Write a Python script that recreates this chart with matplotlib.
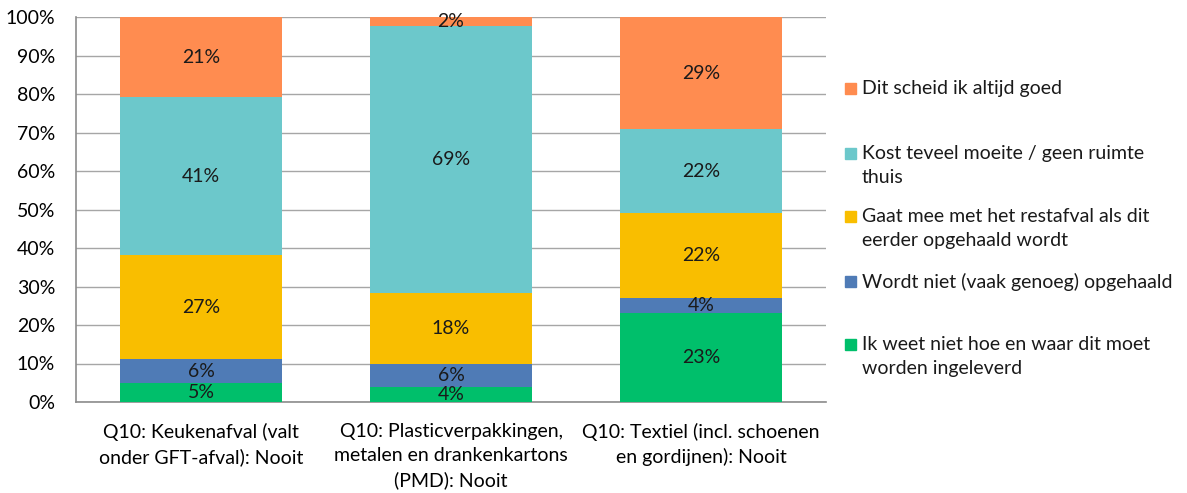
import matplotlib.pyplot as plt
import numpy as np
from matplotlib.patches import Rectangle

plt.rcParams['font.family'] = ['Lato', 'DejaVu Sans']

categories = ['Q10: Keukenafval (valt\nonder GFT-afval): Nooit',
              'Q10: Plasticverpakkingen,\nmetalen en drankenkartons\n(PMD): Nooit',
              'Q10: Textiel (incl. schoenen\nen gordijnen): Nooit']

# stacked bottom -> top
series = ['Ik weet niet hoe en waar dit moet\nworden ingeleverd',
          'Wordt niet (vaak genoeg) opgehaald',
          'Gaat mee met het restafval als dit\neerder opgehaald wordt',
          'Kost teveel moeite / geen ruimte\nthuis',
          'Dit scheid ik altijd goed']
values = {
    series[0]: [4.9, 3.9, 23.1],
    series[1]: [6.2, 6.1, 3.9],
    series[2]: [27.0, 18.3, 22.0],
    series[3]: [41.1, 69.4, 21.8],
    series[4]: [20.8, 2.3, 29.2],
}
colors = ['#00BF6B', '#4F7BB6', '#F9BE00', '#6CC8CB', '#FF8C50']
fs = 14

fig = plt.figure(figsize=(11.87, 4.93), dpi=100)
ax = fig.add_axes([76 / 1187, 1 - 402 / 493, 750 / 1187, 385 / 493])

x = np.arange(len(categories))
bottom = np.zeros(len(categories))
for name, col in zip(series, colors):
    vals = np.array(values[name])
    ax.bar(x, vals, 0.65, bottom=bottom, color=col, zorder=3)
    for xi, b, v in zip(x, bottom, vals):
        ax.text(xi, b + v / 2, f'{v:.0f}%', ha='center', va='center',
                fontsize=fs, color='#1a1a1a', zorder=4)
    bottom += vals

ax.set_xlim(-0.5, 2.5)
ax.set_ylim(0, 100)
ax.set_yticks(np.arange(0, 101, 10))
ax.set_yticklabels([f'{t}%' for t in range(0, 101, 10)], fontsize=fs)
ax.set_xticks(x)
ax.set_xticklabels(categories, fontsize=fs, linespacing=1.5)
ax.tick_params(axis='y', length=0, pad=15)
ax.tick_params(axis='x', length=0, pad=15)
ax.grid(axis='y', color='#A6A6A6', linewidth=1, zorder=0)
for s in ['top', 'right']:
    ax.spines[s].set_visible(False)
for s in ['left', 'bottom']:
    ax.spines[s].set_color('#8C8C8C')
    ax.spines[s].set_linewidth(1.2)

# legend, top entry first, square aligned with first text line
leg_y = [88, 153, 216, 281, 344]
for yy, name, col in zip(leg_y, series[::-1], colors[::-1]):
    fig.patches.append(Rectangle((845 / 1187, 1 - (yy + 5.5) / 493), 11 / 1187, 11 / 493,
                                 transform=fig.transFigure, color=col))
    fig.text(862 / 1187, 1 - (yy - 8) / 493, name, ha='left', va='top',
             fontsize=fs, linespacing=1.5, color='#1a1a1a')

fig.savefig('out.png', dpi=100)
